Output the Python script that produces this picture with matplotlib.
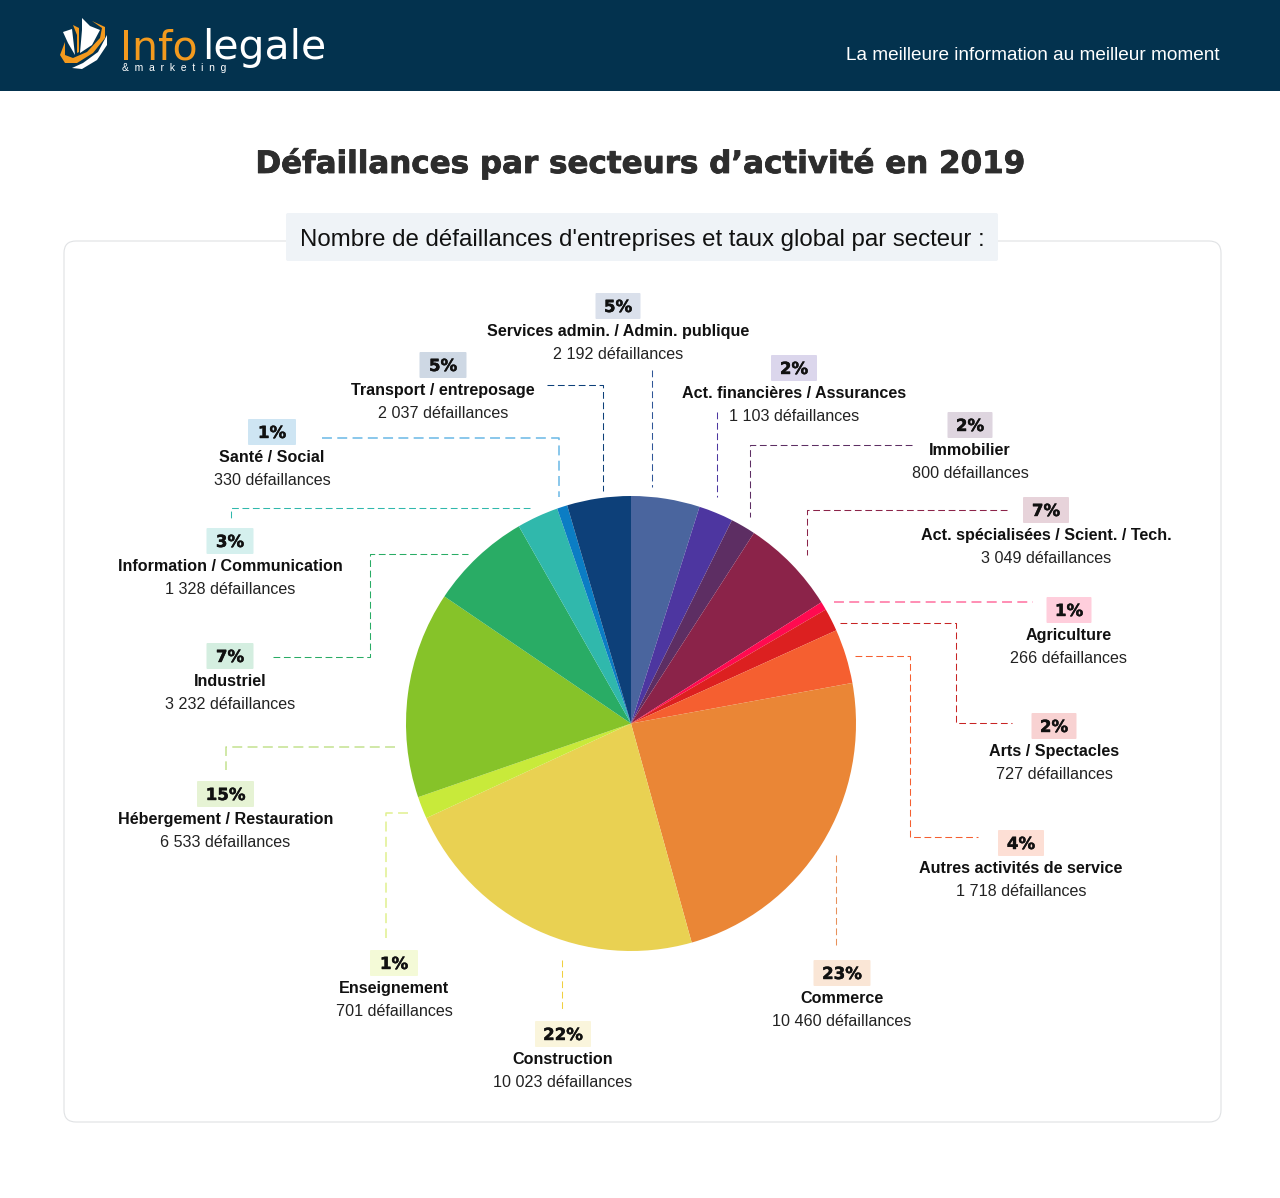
import matplotlib as mpl
import matplotlib.pyplot as plt
import matplotlib.patheffects as pe
from matplotlib.patches import FancyBboxPatch, Polygon, Rectangle
from matplotlib.transforms import Affine2D

mpl.rcParams['font.family'] = 'Liberation Sans'
mpl.rcParams['figure.dpi'] = 100
mpl.rcParams['savefig.dpi'] = 100
mpl.rcParams['lines.linewidth'] = .75

sectors = ["Services admin. / Admin. publique", "Act. financières / Assurances", "Immobilier",
           "Act. spécialisées / Scient. / Tech.", "Agriculture", "Arts / Spectacles",
           "Autres activités de service", "Commerce", "Construction", "Enseignement",
           "Hébergement / Restauration", "Industriel", "Information / Communication",
           "Santé / Social", "Transport / entreposage"]
counts = [2192, 1103, 800, 3049, 266, 727, 1718, 10460, 10023, 701, 6533, 3232, 1328, 330, 2037]
shares = [5, 2, 2, 7, 1, 2, 4, 23, 22, 1, 15, 7, 3, 1, 5]

colors = ["#4a659e", "#4d36a0", "#5d2e63", "#8b2349", "#ff0a50", "#dc2020", "#f55f30", "#ea8636",
          "#e9d152", "#c8ea3a", "#86c329", "#29ac65", "#30b8ac", "#0b7dc4", "#0d4079"]
line_colors = ["#2f5597", "#4d36a0", "#5d2e63", "#8b2349", "#ff6f9f", "#c82424", "#f55f30", "#e8915a",
               "#f0d040", "#e0f090", "#c4e290", "#29ac65", "#30b8ac", "#6ab8e6", "#0d4079"]

# label centre x, y of the name, badge width
label_pos = [(618, 331, 45), (794, 393, 46), (970, 450, 45), (1046, 535, 46), (1069, 635, 45),
             (1054, 751, 45), (1021, 868, 46), (842, 998, 57), (563, 1059, 56), (394, 988, 48),
             (225.5, 819, 57), (230, 681, 47), (230, 566, 47), (272, 457, 48), (443, 390, 47)]

leaders = [[(652, 370), (652, 487)],
           [(717, 412), (717, 497)],
           [(912, 445), (750, 445), (750, 517)],
           [(1007, 510), (807, 510), (807, 555)],
           [(834, 602), (1033, 602)],
           [(840, 623), (956, 623), (956, 723), (1012, 723)],
           [(855, 656), (910, 656), (910, 837), (978, 837)],
           [(836, 855), (836, 945)],
           [(562, 960), (562, 1012)],
           [(408, 813), (386, 813), (386, 938)],
           [(395, 747), (226, 747), (226, 770)],
           [(273, 657), (370, 657), (370, 554), (468, 554)],
           [(530, 508), (231, 508), (231, 518)],
           [(322, 438), (559, 438), (559, 497)],
           [(547, 385), (603, 385), (603, 491)]]


def format_count(count):
    return f"{count:,}".replace(",", " ") + " défaillances"


def plot_header():
    ax = plt.gca()
    ax.add_patch(Rectangle((0, 0), 1280, 91, fc="#03324e", lw=0, zorder=1))
    # logo, roughly
    ax.add_patch(Polygon([(82, 18), (90, 26), (100, 30), (92, 45), (80, 53), (82, 30)], fc="w", lw=0, zorder=2))
    ax.add_patch(Polygon([(63, 32), (72, 29), (75, 55), (68, 43)], fc="w", lw=0, zorder=2))
    ax.add_patch(Polygon([(73, 25), (79, 28), (79, 52), (77, 53), (77, 35)], fc="#f39a1e", lw=0, zorder=2))
    ax.add_patch(Polygon([(107, 35), (107, 45), (97, 60), (82, 69), (72, 68), (83, 63), (98, 52)],
                         fc="w", lw=0, zorder=2))
    ax.add_patch(Polygon([(92, 21), (105, 27), (105, 38), (93, 53), (77, 63), (65, 63), (60, 55), (65, 42),
                          (65, 55), (73, 58), (87, 52), (100, 38), (102, 28)], fc="#f39a1e", lw=0, zorder=3))
    plt.text(120, 59, "Info", family="DejaVu Sans", color="#f39a1e", fontsize=29.5, zorder=3)
    plt.text(202, 59, "legale", family="DejaVu Sans", color="w", fontsize=29.5, zorder=3)
    plt.text(122, 71, "&  m  a  r  k  e  t  i  n  g", color="w", fontsize=7.5, zorder=3)
    plt.text(1220, 60, "La meilleure information au meilleur moment", color="w", fontsize=13.65,
             ha="right", zorder=3)


def plot_frame():
    ax = plt.gca()
    plt.text(641.5, 173, "Défaillances par secteurs d’activité en 2019", color="#2d2d2d", fontsize=22.3,
             family="DejaVu Sans", fontweight="bold", ha="center", zorder=3,
             path_effects=[pe.withStroke(linewidth=.6, foreground="#2d2d2d")])
    ax.add_patch(FancyBboxPatch((72, 249), 1141, 865, boxstyle="round,pad=8,rounding_size=12",
                                fc="w", ec="#e0e2e4", lw=.8, zorder=1))
    ax.add_patch(FancyBboxPatch((288, 215), 708, 44, boxstyle="round,pad=2,rounding_size=2",
                                fc="#eff3f7", ec="none", zorder=2))
    plt.text(642, 246, "Nombre de défaillances d'entreprises et taux global par secteur :", color="#111111",
             fontsize=17.3, ha="center", zorder=3)


def plot_labels():
    ax = plt.gca()
    for i, sector in enumerate(sectors):
        x, y, width = label_pos[i]
        ax.add_patch(FancyBboxPatch((x - width / 2 + 1, y - 37), width - 2, 24,
                                    boxstyle="round,pad=1,rounding_size=1", fc=colors[i], ec="none",
                                    alpha=.2, zorder=2))
        plt.text(x, y - 19, f"{shares[i]}%", family="DejaVu Sans", fontweight="bold", fontsize=12,
                 ha="center", color="#111111", zorder=3,
                 path_effects=[pe.withStroke(linewidth=.3, foreground="#111111")])
        plt.text(x, y + 5, sector, fontweight="bold", fontsize=11.65, ha="center", color="#111111", zorder=3)
        plt.text(x, y + 28, format_count(counts[i]), fontsize=11.65, ha="center", color="#222222", zorder=3)
        xs, ys = zip(*leaders[i])
        width = 1.1 if i in (4, 9, 10, 13) else .75  # the pale ones are thicker
        plt.plot(xs, ys, color=line_colors[i], linewidth=width, linestyle=(0, (6.5, 3.5)), zorder=2)


def plot_chart():
    plt.figure(figsize=(12.8, 11.98))
    plt.axes([0, 0, 1, 1])
    wedges, _ = plt.pie(counts, colors=colors, center=(631, 723.5), radius=225, startangle=-90,
                        counterclock=True,  # y runs downwards
                        wedgeprops={"zorder": 2})
    # the pie of the picture is a little taller than wide
    stretch = Affine2D().translate(-631, -723.5).scale(1, 227.5 / 225).translate(631, 723.5)
    for wedge in wedges:
        wedge.set_transform(stretch + plt.gca().transData)
    plot_header()
    plot_frame()
    plot_labels()
    plt.xlim(0, 1280)
    plt.ylim(1198, 0)
    plt.axis("off")
    plt.savefig("out.png", facecolor="w")


if __name__ == "__main__":
    plot_chart()
